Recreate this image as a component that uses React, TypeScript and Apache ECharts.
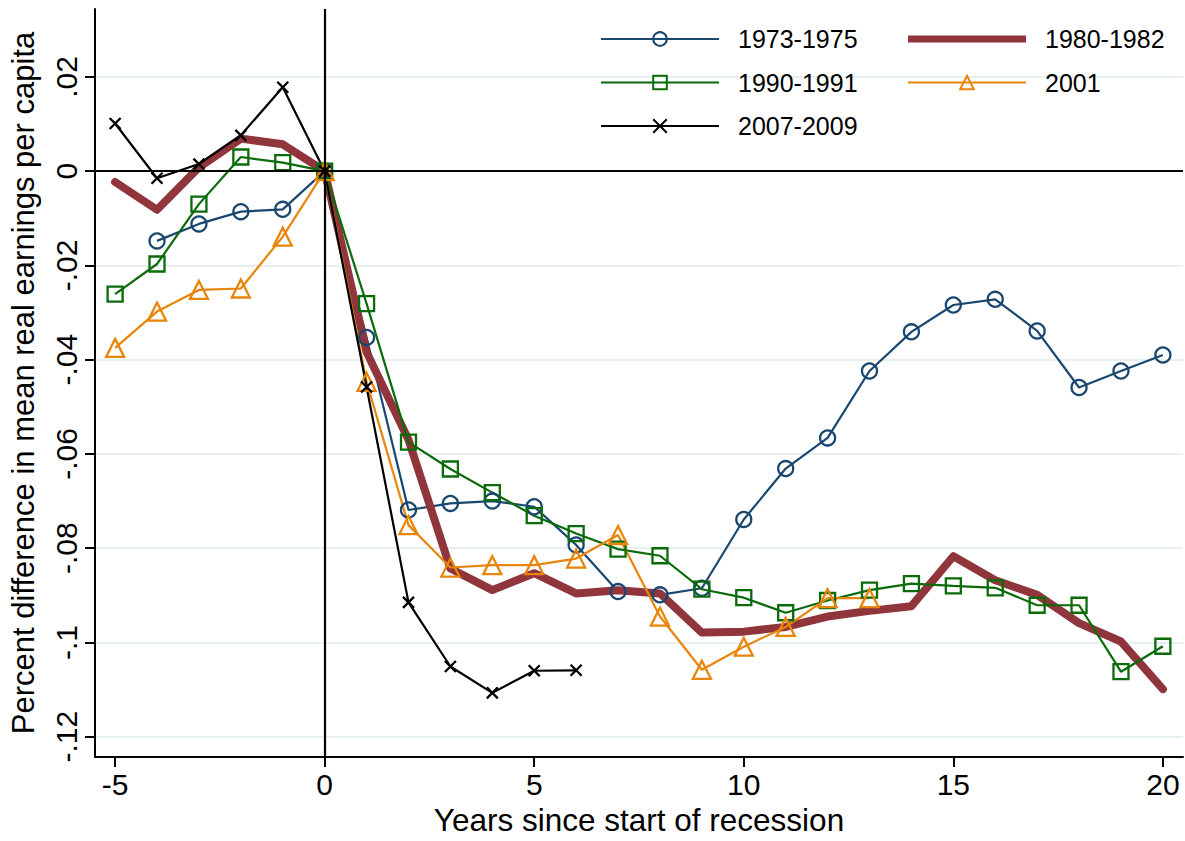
import React, { useEffect, useRef } from "react";
import * as echarts from "echarts";

const years = [-5, -4, -3, -2, -1, 0, 1, 2, 3, 4, 5, 6, 7, 8, 9, 10, 11, 12, 13, 14, 15, 16, 17, 18, 19, 20];

const r1973 = [null, -0.0148, -0.0112, -0.0086, -0.0081, 0, -0.0353, -0.0719, -0.0705, -0.0700, -0.0712, -0.0793, -0.0892, -0.0899, -0.0885, -0.0739, -0.0631, -0.0566, -0.0424, -0.0341, -0.0284, -0.0272, -0.0339, -0.0459, -0.0424, -0.0390];
const r1980 = [-0.0023, -0.0082, 0.0008, 0.0069, 0.0057, 0, -0.0384, -0.0570, -0.0843, -0.0889, -0.0853, -0.0896, -0.0889, -0.0896, -0.0979, -0.0977, -0.0967, -0.0945, -0.0933, -0.0923, -0.0817, -0.0868, -0.0899, -0.0959, -0.0998, -0.1099];
const r1990 = [-0.0261, -0.0197, -0.0070, 0.0030, 0.0018, 0, -0.0281, -0.0575, -0.0632, -0.0682, -0.0731, -0.0769, -0.0802, -0.0816, -0.0887, -0.0905, -0.0937, -0.0911, -0.0889, -0.0875, -0.0880, -0.0884, -0.0921, -0.0921, -0.1062, -0.1008];
const r2001 = [-0.0375, -0.0298, -0.0252, -0.0249, -0.0139, 0, -0.0447, -0.0751, -0.0841, -0.0836, -0.0836, -0.0822, -0.0772, -0.0945, -0.1058, -0.1009, -0.0967, -0.0906, -0.0906, null, null, null, null, null, null, null];
const r2007 = [0.0101, -0.0015, 0.0015, 0.0076, 0.0178, 0, -0.0458, -0.0915, -0.1051, -0.1107, -0.1060, -0.1059, null, null, null, null, null, null, null, null, null, null, null, null, null, null];

const xTicks = [-5, 0, 5, 10, 15, 20];
const yTicks = [-0.12, -0.1, -0.08, -0.06, -0.04, -0.02, 0, 0.02];

const FONT = "'Liberation Sans', Arial, Helvetica, sans-serif";

const pairs = (vals: (number | null)[]) =>
  years.map((x, i) => [x, vals[i]]).filter((p) => p[1] !== null);

const fmtY = (v: number) => {
  if (Math.abs(v) < 1e-9) return "0";
  const s = Number(Math.abs(v).toFixed(3)).toString().replace(/^0/, "");
  return (v < 0 ? "-" : "") + s;
};

export default function App() {
  const ref = useRef<HTMLDivElement>(null);
  useEffect(() => {
    const chart = echarts.init(ref.current!, null, { renderer: "svg" });
    const thin = (name: string, data: any, color: string, symbol: string, size: number) => ({
      name,
      type: "line",
      data,
      symbol,
      symbolSize: size,
      showSymbol: true,
      lineStyle: { color, width: 2.2 },
      itemStyle: { color: "rgba(0,0,0,0)", borderColor: color, borderWidth: 2.3 },
      emphasis: { disabled: true },
    });
    const legendText = { fontSize: 25, color: "#000", fontFamily: FONT, padding: [0, 0, 0, 14], lineHeight: 28 };
    chart.setOption({
      animation: false,
      backgroundColor: "#ffffff",
      textStyle: { fontFamily: FONT },
      grid: { left: 95, right: 2, top: 9, bottom: 84, containLabel: false, outerBoundsMode: "none" },
      legend: [
        {
          left: 600,
          top: 25,
          padding: 0,
          orient: "vertical",
          itemWidth: 118,
          itemHeight: 17,
          itemGap: 15.5,
          data: ["1973-1975", "1990-1991", "2007-2009"],
          textStyle: legendText,
          selectedMode: false,
        },
        {
          left: 907,
          top: 25,
          padding: 0,
          orient: "vertical",
          itemWidth: 118,
          itemHeight: 17,
          itemGap: 15.5,
          data: [
            { name: "1980-1982", icon: "path://M0,0H118V7H0Z" },
            "2001",
          ],
          textStyle: legendText,
          selectedMode: false,
        },
      ],
      xAxis: {
        type: "value",
        min: -5.48,
        max: 20.48,
        name: "Years since start of recession",
        nameLocation: "middle",
        nameGap: 47,
        nameTextStyle: { fontSize: 31.5, color: "#000", fontFamily: FONT },
        axisLine: { show: true, onZero: false, lineStyle: { color: "#000", width: 2 } },
        axisTick: { show: true, length: 10, lineStyle: { color: "#000", width: 2 }, customValues: xTicks },
        axisLabel: { fontSize: 30, color: "#000", margin: 12, fontFamily: FONT, customValues: xTicks, formatter: (v: number) => String(v) },
        splitLine: { show: false },
      },
      yAxis: {
        type: "value",
        min: -0.1243,
        max: 0.0344,
        name: "Percent difference in mean real earnings per capita",
        nameLocation: "middle",
        nameGap: 56,
        nameRotate: 90,
        nameTextStyle: { fontSize: 31, color: "#000", fontFamily: FONT },
        axisLine: { show: true, onZero: false, lineStyle: { color: "#000", width: 2 } },
        axisTick: { show: true, length: 10, lineStyle: { color: "#000", width: 2 }, customValues: yTicks },
        axisLabel: { fontSize: 30, color: "#000", rotate: 90, margin: 14, fontFamily: FONT, customValues: yTicks, formatter: fmtY },
        splitLine: { show: true, lineStyle: { color: "#e8eff1", width: 2 } },
      },
      series: [
        {
          ...thin("1973-1975", pairs(r1973), "#1a476f", "circle", 15),
          markLine: {
            silent: true,
            symbol: "none",
            label: { show: false },
            lineStyle: { color: "#000", width: 2.2, type: "solid" },
            data: [{ xAxis: 0 }, { yAxis: 0 }],
          },
        },
        {
          name: "1980-1982",
          type: "line",
          data: pairs(r1980),
          symbol: "none",
          showSymbol: false,
          lineStyle: { color: "#90353b", width: 8, join: "round", cap: "round" },
          itemStyle: { color: "#90353b" },
          emphasis: { disabled: true },
        },
        thin("1990-1991", pairs(r1990), "#0b6b0b", "rect", 15),
        thin("2001", pairs(r2001), "#e8850a", "triangle", 18),
        thin("2007-2009", pairs(r2007), "#000000", "path://M0,0L10,10M10,0L0,10", 11),
      ],
    });
    return () => chart.dispose();
  }, []);
  return <div ref={ref} style={{ position: "absolute", left: 0, top: 0, width: 1185, height: 841 }} />;
}
